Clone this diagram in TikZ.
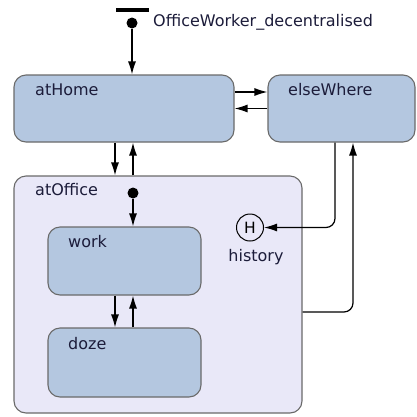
\documentclass[tikz,border=0pt]{standalone}
\usepackage{fontspec}
\setmainfont{DejaVu Sans}
\usetikzlibrary{arrows.meta}
\usetikzlibrary{positioning}

\definecolor{stateblue}{HTML}{B4C7E0}
\definecolor{officebg}{HTML}{E9E8F8}
\definecolor{edgegray}{HTML}{6A6A6A}
\definecolor{labelink}{HTML}{1C1C3A}

\begin{document}
\begin{tikzpicture}[x=1pt, y=-1pt,
    font=\fontsize{16}{18}\selectfont,
    tr/.style={draw, line width=1.2pt, -{Latex[length=13pt,width=8pt]}},
    state/.style={draw=edgegray, fill=stateblue, rounded corners=12pt, line width=1.1pt},
    composite/.style={draw=edgegray, fill=officebg, rounded corners=12pt, line width=1.1pt},
    dot/.style={circle, fill=black, minimum size=11pt, inner sep=0pt},
    caption/.style={text=labelink, anchor=west, inner sep=0pt}]
    \useasboundingbox (0,0) rectangle (417,416);

    % top level initial pseudostate
    \node [fill=black, minimum width=33pt, minimum height=3.2pt, inner sep=0pt] (bar) at (132.5,10) {};
    \node [dot] (init) at (132,23) {};
    \node [caption] (title) at (153,22) {OfficeWorker\_decentralised};

    % states
    \node [state, minimum width=220pt, minimum height=67pt] (atHome) at (124,108.5) {};
    \node [state, minimum width=147pt, minimum height=67pt] (elseWhere) at (341.5,108.5) {};
    \node [composite, minimum width=288pt, minimum height=237pt] (atOffice) at (158,294.5) {};
    \node [caption] at (35,90) {atHome};
    \node [caption] at (288,90) {elseWhere};
    \node [caption] at (35,190) {atOffice};

    % inside atOffice
    \node [dot] (subinit) at (133,193) {};
    \node [state, minimum width=153pt, minimum height=68pt] (work) at (124.5,261) {};
    \node [state, minimum width=153pt, minimum height=69pt] (doze) at (124.5,362.5) {};
    \node [caption] at (68,242) {work};
    \node [caption] at (68,344) {doze};
    \node [circle, draw=black, line width=1pt, minimum size=27pt, inner sep=0pt,
        font=\fontsize{15.5}{16}\selectfont] (hist) at (250,227.5) {H};
    \node [text=labelink, inner sep=0pt, below=8pt of hist, xshift=6pt] {history};

    % transitions
    \draw [tr] (init) -- (init |- atHome.north);
    \draw [tr] (atHome.east |- 0,92) -- (elseWhere.west |- 0,92);
    \draw [tr] (elseWhere.west) -- (atHome.east);
    \draw [tr] (atHome.south -| 115,0) -- (atOffice.north -| 115,0);
    \draw [tr] (atOffice.north -| 133,0) -- (atHome.south -| 133,0);
    \draw [tr] (subinit) -- (subinit |- work.north);
    \draw [tr] (work.south -| 115,0) -- (doze.north -| 115,0);
    \draw [tr] (doze.north -| 133,0) -- (work.south -| 133,0);
    \draw [tr, rounded corners=9pt] (elseWhere.south -| 335,0) |- (hist.east);
    \draw [tr, rounded corners=9pt] (atOffice.east |- 0,312) -| (elseWhere.south -| 353,0);
\end{tikzpicture}
\end{document}
